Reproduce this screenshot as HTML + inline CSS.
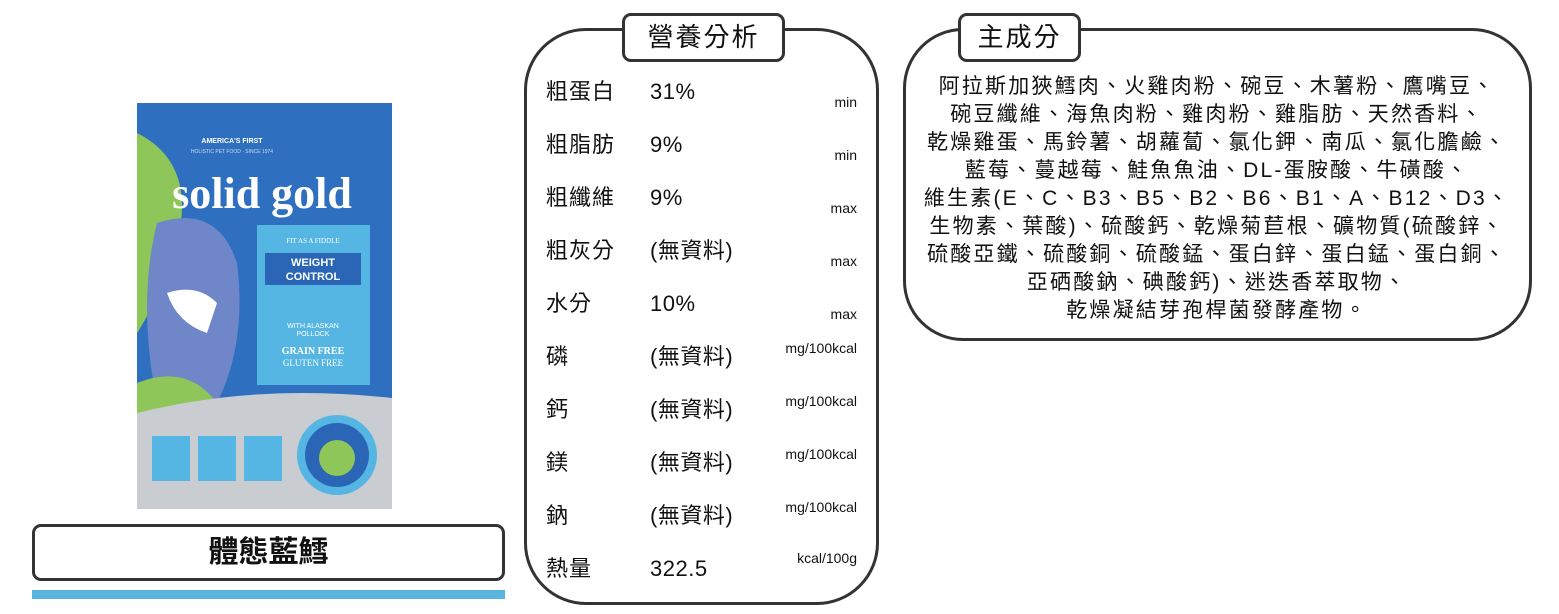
<!DOCTYPE html>
<html><head><meta charset="utf-8"><style>
body{margin:0;width:1559px;height:614px;background:#fff;position:relative;overflow:hidden;font-family:"Liberation Sans","Noto Sans CJK TC",sans-serif;color:#111}
.abs{position:absolute}
.box{position:absolute;border:3px solid #333;background:#fff;box-sizing:border-box}
.lab{position:absolute;left:546px;font-size:22px;line-height:26px;letter-spacing:1px}
.val{position:absolute;left:650px;font-size:22px;line-height:26px;letter-spacing:0.5px}
.unit{position:absolute;right:702px;font-size:14px;line-height:16px}
</style></head><body>
<div class="box" style="left:524px;top:28px;width:355px;height:577px;border-radius:62px"></div>
<div class="box" style="left:622px;top:13px;width:163px;height:49px;border-radius:9px;font-size:26px;text-align:center;line-height:43px;letter-spacing:2px">營養分析</div>
<div class="box" style="left:903px;top:28px;width:629px;height:313px;border-radius:60px"></div>
<div class="box" style="left:958px;top:13px;width:123px;height:49px;border-radius:9px;font-size:26px;text-align:center;line-height:43px;letter-spacing:2px">主成分</div>
<div class="abs" style="left:905px;top:73px;width:624px;text-align:center;font-size:21px;line-height:28px;letter-spacing:2.2px">阿拉斯加狹鱈肉、火雞肉粉、碗豆、木薯粉、鷹嘴豆、<br>碗豆纖維、海魚肉粉、雞肉粉、雞脂肪、天然香料、<br>乾燥雞蛋、馬鈴薯、胡蘿蔔、氯化鉀、南瓜、氯化膽鹼、<br>藍莓、蔓越莓、鮭魚魚油、DL-蛋胺酸、牛磺酸、<br>維生素(E、C、B3、B5、B2、B6、B1、A、B12、D3、<br>生物素、葉酸)、硫酸鈣、乾燥菊苣根、礦物質(硫酸鋅、<br>硫酸亞鐵、硫酸銅、硫酸錳、蛋白鋅、蛋白錳、蛋白銅、<br>亞硒酸鈉、碘酸鈣)、迷迭香萃取物、<br>乾燥凝結芽孢桿菌發酵產物。</div>
<div class="box" style="left:32px;top:524px;width:473px;height:57px;border-radius:9px;font-size:30px;text-align:center;line-height:51px;font-weight:bold">體態藍鱈</div>
<div class="abs" style="left:32px;top:590px;width:473px;height:9px;background:#5ab4e0"></div>

<div class="lab" style="top:79px">粗蛋白</div><div class="val" style="top:79px">31%</div><div class="unit" style="top:94px">min</div>
<div class="lab" style="top:132px">粗脂肪</div><div class="val" style="top:132px">9%</div><div class="unit" style="top:147px">min</div>
<div class="lab" style="top:185px">粗纖維</div><div class="val" style="top:185px">9%</div><div class="unit" style="top:200px">max</div>
<div class="lab" style="top:238px">粗灰分</div><div class="val" style="top:238px">(無資料)</div><div class="unit" style="top:253px">max</div>
<div class="lab" style="top:291px">水分</div><div class="val" style="top:291px">10%</div><div class="unit" style="top:306px">max</div>
<div class="lab" style="top:344px">磷</div><div class="val" style="top:344px">(無資料)</div><div class="unit" style="top:340px">mg/100kcal</div>
<div class="lab" style="top:397px">鈣</div><div class="val" style="top:397px">(無資料)</div><div class="unit" style="top:393px">mg/100kcal</div>
<div class="lab" style="top:450px">鎂</div><div class="val" style="top:450px">(無資料)</div><div class="unit" style="top:446px">mg/100kcal</div>
<div class="lab" style="top:503px">鈉</div><div class="val" style="top:503px">(無資料)</div><div class="unit" style="top:499px">mg/100kcal</div>
<div class="lab" style="top:556px">熱量</div><div class="val" style="top:556px">322.5</div><div class="unit" style="top:550px">kcal/100g</div>

<svg class="abs" style="left:137px;top:103px" width="255" height="406" viewBox="0 0 255 406">
<rect x="0" y="0" width="255" height="406" fill="#2f6fc0"/>
<path d="M0 30 Q60 60 40 140 Q20 200 0 230Z" fill="#8fc65a"/>
<path d="M20 120 Q80 100 100 160 Q110 240 80 300 L20 300 Q0 200 20 120Z" fill="#6f86c8"/>
<path d="M30 190 Q60 180 80 200 L70 230 Q40 220 30 190Z" fill="#fff"/>
<path d="M0 280 Q50 260 80 300 L0 310Z" fill="#8fc65a"/>
<rect x="120" y="122" width="113" height="160" fill="#55b5e3"/>
<rect x="128" y="150" width="96" height="32" fill="#2a66b5"/>
<text x="176" y="140" fill="#fff" font-size="7" text-anchor="middle" font-family="Liberation Serif">FIT AS A FIDDLE</text>
<text x="176" y="163" fill="#fff" font-size="11" text-anchor="middle" font-weight="bold">WEIGHT</text>
<text x="176" y="177" fill="#fff" font-size="11" text-anchor="middle" font-weight="bold">CONTROL</text>
<text x="176" y="225" fill="#fff" font-size="7" text-anchor="middle">WITH ALASKAN</text>
<text x="176" y="233" fill="#fff" font-size="7" text-anchor="middle">POLLOCK</text>
<text x="176" y="251" fill="#fff" font-size="10" text-anchor="middle" font-family="Liberation Serif" font-weight="bold">GRAIN FREE</text>
<text x="176" y="263" fill="#fff" font-size="9" text-anchor="middle" font-family="Liberation Serif">GLUTEN FREE</text>
<text x="95" y="40" fill="#fff" font-size="7" text-anchor="middle" font-weight="bold">AMERICA'S FIRST</text>
<text x="95" y="50" fill="#cde" font-size="5" text-anchor="middle">HOLISTIC PET FOOD · SINCE 1974</text>
<text x="125" y="105" fill="#fff" font-size="44" text-anchor="middle" font-family="Liberation Serif" font-weight="bold">solid gold</text>
<path d="M0 310 Q120 280 255 295 L255 406 L0 406Z" fill="#c9ccd0"/>
<rect x="15" y="333" width="38" height="45" fill="#55b5e3"/>
<rect x="61" y="333" width="38" height="45" fill="#55b5e3"/>
<rect x="107" y="333" width="38" height="45" fill="#55b5e3"/>
<circle cx="200" cy="352" r="40" fill="#55b5e3"/><circle cx="200" cy="352" r="32" fill="#2a66b5"/>
<circle cx="200" cy="355" r="18" fill="#8fc65a"/>
</svg>
</body></html>
